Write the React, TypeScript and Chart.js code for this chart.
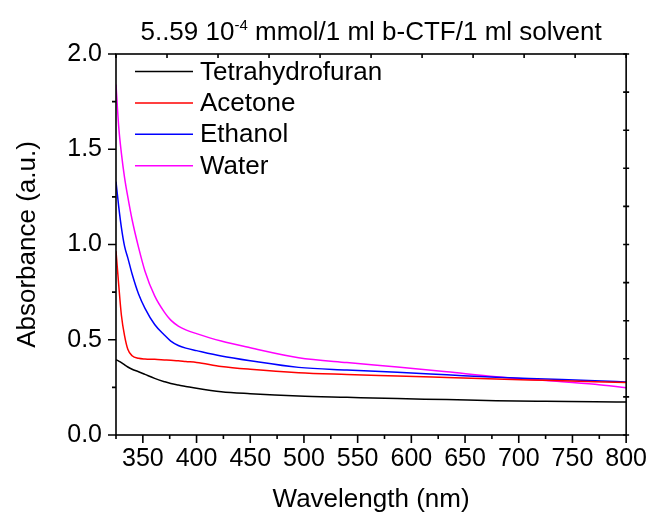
import React, { useEffect, useRef } from "react";
import { Chart, registerables } from "chart.js";

Chart.register(...registerables);

// ---- data ----
const wavelengths = [325, 327.5, 330, 333, 336, 340, 346, 352, 361, 370, 376, 383, 390, 400, 423, 450, 495, 540, 587, 633, 679, 725, 771, 800];
const thf = [0.395, 0.388, 0.38, 0.368, 0.357, 0.345, 0.332, 0.318, 0.297, 0.28, 0.27, 0.262, 0.255, 0.245, 0.227, 0.217, 0.205, 0.198, 0.191, 0.186, 0.18, 0.177, 0.175, 0.173];
const acetone = [0.965, 0.79, 0.63, 0.52, 0.45, 0.416, 0.403, 0.399, 0.397, 0.394, 0.392, 0.39, 0.386, 0.381, 0.36, 0.345, 0.327, 0.318, 0.31, 0.302, 0.294, 0.287, 0.28, 0.276];
const ethanol = [1.33, 1.2, 1.09, 0.99, 0.93, 0.845, 0.74, 0.665, 0.58, 0.525, 0.493, 0.47, 0.456, 0.443, 0.415, 0.39, 0.355, 0.341, 0.329, 0.316, 0.303, 0.294, 0.285, 0.278];
const water = [1.84, 1.62, 1.48, 1.35, 1.25, 1.13, 0.985, 0.86, 0.73, 0.645, 0.603, 0.572, 0.552, 0.532, 0.493, 0.458, 0.406, 0.38, 0.357, 0.332, 0.306, 0.286, 0.266, 0.248];

const seriesNames = ["Tetrahydrofuran", "Acetone", "Ethanol", "Water"];
const seriesValues = [thf, acetone, ethanol, water];
const seriesColors = ["#000000", "#ff0000", "#0000ff", "#ff00ff"];

const xMajorTicks = [350, 400, 450, 500, 550, 600, 650, 700, 750, 800];
const xMinorTicks = [325, 375, 425, 475, 525, 575, 625, 675, 725, 775];
const yMajorTicks = [0, 0.5, 1.0, 1.5, 2.0];
const yMinorTicks = [0.25, 0.75, 1.25, 1.75];
const topTicks = [325, 372.5, 420, 467.5, 515, 562.5, 610, 657.5, 705, 752.5, 800];
const rightTicks = [0, 0.2, 0.4, 0.6, 0.8, 1.0, 1.2, 1.4, 1.6, 1.8, 2.0];

const titleMain = "5..59 10";
const titleSup = "-4";
const titleRest = " mmol/1 ml b-CTF/1 ml solvent";
const xTitle = "Wavelength (nm)";
const yTitle = "Absorbance (a.u.)";

const FONT = "'Liberation Sans', Arial, Helvetica, sans-serif";

const decorPlugin = {
  id: "decor",
  afterDraw(chart: any) {
    const { ctx, chartArea } = chart;
    const { left, right, top, bottom } = chartArea;
    const xs = chart.scales.x;
    const ys = chart.scales.y;
    ctx.save();
    ctx.strokeStyle = "#000";
    ctx.lineWidth = 1.6;
    // frame
    ctx.strokeRect(left, top, right - left, bottom - top);
    ctx.beginPath();
    // bottom ticks
    xMajorTicks.forEach((v) => {
      const px = xs.getPixelForValue(v);
      ctx.moveTo(px, bottom);
      ctx.lineTo(px, bottom + 8);
    });
    xMinorTicks.forEach((v) => {
      const px = xs.getPixelForValue(v);
      ctx.moveTo(px, bottom);
      ctx.lineTo(px, bottom + 4);
    });
    // left ticks
    yMajorTicks.forEach((v) => {
      const py = ys.getPixelForValue(v);
      ctx.moveTo(left, py);
      ctx.lineTo(left - 8, py);
    });
    yMinorTicks.forEach((v) => {
      const py = ys.getPixelForValue(v);
      ctx.moveTo(left, py);
      ctx.lineTo(left - 4, py);
    });
    // top ticks (inward)
    topTicks.forEach((v) => {
      const px = xs.getPixelForValue(v);
      ctx.moveTo(px, top);
      ctx.lineTo(px, top + 4);
    });
    // right ticks
    rightTicks.forEach((v) => {
      const py = ys.getPixelForValue(v);
      ctx.moveTo(right - 3, py);
      ctx.lineTo(right + 3, py);
    });
    ctx.stroke();

    // title with superscript
    ctx.fillStyle = "#000";
    ctx.textBaseline = "alphabetic";
    ctx.textAlign = "left";
    const mainFont = `26px ${FONT}`;
    const supFont = `15px ${FONT}`;
    ctx.font = mainFont;
    const w1 = ctx.measureText(titleMain).width;
    const w3 = ctx.measureText(titleRest).width;
    ctx.font = supFont;
    const w2 = ctx.measureText(titleSup).width;
    const total = w1 + w2 + w3;
    let tx = (left + right) / 2 - total / 2;
    const ty = 40;
    ctx.font = mainFont;
    ctx.fillText(titleMain, tx, ty);
    tx += w1;
    ctx.font = supFont;
    ctx.fillText(titleSup, tx, ty - 10);
    tx += w2;
    ctx.font = mainFont;
    ctx.fillText(titleRest, tx, ty);

    // legend
    ctx.font = `26px ${FONT}`;
    ctx.textBaseline = "middle";
    seriesNames.forEach((name, i) => {
      const ly = top + 17.5 + i * 31.4;
      ctx.strokeStyle = seriesColors[i];
      ctx.lineWidth = 1.5;
      ctx.beginPath();
      ctx.moveTo(left + 19, ly);
      ctx.lineTo(left + 77, ly);
      ctx.stroke();
      ctx.fillStyle = "#000";
      ctx.fillText(name, left + 84, ly + 1);
    });
    ctx.restore();
  },
};

export default function App() {
  const ref = useRef<HTMLCanvasElement | null>(null);
  useEffect(() => {
    if (!ref.current) return;
    const datasets = seriesNames.map((name, i) => ({
      label: name,
      data: wavelengths.map((w, j) => ({ x: w, y: seriesValues[i][j] })),
      borderColor: seriesColors[i],
      backgroundColor: seriesColors[i],
      borderWidth: 1.5,
      pointRadius: 0,
      fill: false,
      cubicInterpolationMode: "monotone" as const,
    }));
    const font = { family: FONT, size: 25 };
    const chart = new Chart(ref.current, {
      type: "line",
      data: { datasets },
      plugins: [decorPlugin],
      options: {
        responsive: false,
        animation: false,
        layout: { padding: { top: 54, right: 26, left: 0, bottom: 0 } },
        plugins: {
          legend: { display: false },
          title: { display: false },
          tooltip: { enabled: false },
        },
        scales: {
          x: {
            type: "linear",
            min: 325,
            max: 800,
            afterFit: (s: any) => {
              s.height = 82;
            },
            afterBuildTicks: (s: any) => {
              s.ticks = xMajorTicks.map((v) => ({ value: v }));
            },
            grid: { display: false, drawTicks: false },
            border: { display: false },
            ticks: {
              font,
              color: "#000",
              padding: 9,
              maxRotation: 0,
              autoSkip: false,
              callback: (v: any) => String(v),
            },
            title: {
              display: true,
              text: xTitle,
              color: "#000",
              font: { family: FONT, size: 26 },
              padding: { top: 0, bottom: 2 },
            },
          },
          y: {
            type: "linear",
            min: 0,
            max: 2,
            afterFit: (s: any) => {
              s.width = 116;
            },
            afterBuildTicks: (s: any) => {
              s.ticks = yMajorTicks.map((v) => ({ value: v }));
            },
            grid: { display: false, drawTicks: false },
            border: { display: false },
            ticks: {
              font,
              color: "#000",
              padding: 14,
              autoSkip: false,
              callback: (v: any) => Number(v).toFixed(1),
            },
            title: {
              display: true,
              text: yTitle,
              color: "#000",
              font: { family: FONT, size: 26 },
              padding: { top: 12, bottom: 0 },
            },
          },
        },
      },
    });
    return () => chart.destroy();
  }, []);
  return (
    <div style={{ position: "absolute", left: 0, top: 0, width: 656, height: 517, background: "#fff" }}>
      <canvas ref={ref} width={656} height={517} style={{ display: "block", width: 656, height: 517 }} />
    </div>
  );
}
